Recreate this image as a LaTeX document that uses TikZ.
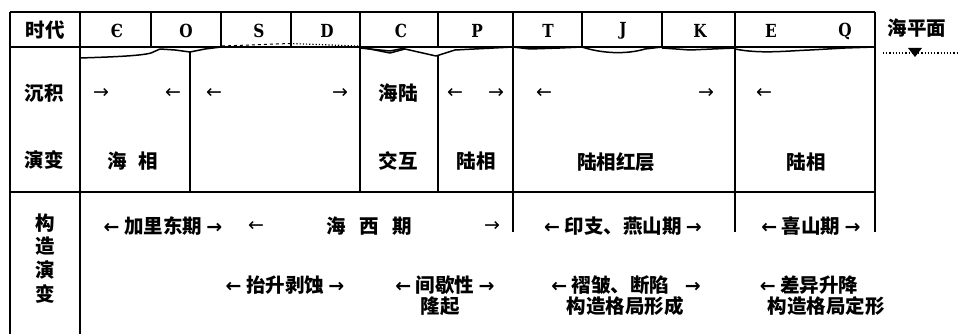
\documentclass[tikz,border=0pt]{standalone}
\usepackage{fontspec}
\setmainfont{Noto Sans CJK SC}
\newfontfamily\arrfont{DejaVu Sans}
\newfontfamily\monoletters{DejaVu Serif}[FakeStretch=0.85]
\newcommand{\RA}{{\arrfont\fontsize{19}{19}\selectfont →}}
\newcommand{\LA}{{\arrfont\fontsize{19}{19}\selectfont ←}}
\begin{document}
\begin{tikzpicture}[x=1pt,y=-1pt,
  grid/.style={line width=1.3pt,black},
  wave/.style={line width=1.5pt,black,line join=round},
  cj/.style={font=\bfseries\fontsize{19.5}{23}\selectfont,inner sep=0pt},
  let/.style={font=\monoletters\bfseries\fontsize{18}{18}\selectfont,inner sep=0pt},
  ar/.style={font=\arrfont\fontsize{19}{19}\selectfont,inner sep=0pt}]
\useasboundingbox (0,0) rectangle (959,334);
% ---- table frame
\draw[grid] (10,12) -- (875,12);
\draw[grid] (10,47) -- (875,47);
\draw[grid] (10,192) -- (875,192);
\draw[grid] (10,12) -- (10,334);
\draw[grid] (80,12) -- (80,334);
\foreach \x in {151,221,291,582,662}{\draw[grid] (\x,12) -- (\x,47);}
\draw[grid] (360,12) -- (360,192);
\draw[grid] (438,12) -- (438,47);
\draw[grid] (438,56) -- (438,192);
\draw[grid] (190,52) -- (190,192);
\draw[grid] (513,12) -- (513,232);
\draw[grid] (735,12) -- (735,232);
\draw[grid] (875,12) -- (875,232);
% ---- sea-level curve
\draw[wave] (80,58) .. controls (110,57) and (140,56) .. (151,53) -- (160,49)
  -- (175,50) -- (190,52) -- (205,49) -- (221,47);
\draw[line width=1pt,dashed] (222,46) -- (290,43.5);
\draw[line width=1.2pt,dotted] (290,43.5) -- (358,46);
\draw[wave] (360,47) -- (390,53) -- (405,49) -- (436,56) -- (455,50) -- (513,47);
\draw[wave] (360,48) -- (390,51) -- (405,48);
\draw[wave] (513,47) -- (530,49) -- (560,48) -- (582,47);
\draw[wave] (582,47) .. controls (600,53) and (625,55) .. (645,49) -- (662,47);
\draw[wave] (662,48) -- (690,50) -- (735,48);
\draw[wave] (735,49) .. controls (760,54) and (785,51) .. (810,50) -- (845,48) -- (875,47);
% ---- sea level marker
\draw[line width=1.2pt,dotted] (883,53) -- (959,53);
\fill (908,48) -- (922,48) -- (915,57) -- cycle;
% ---- row 1
\node[cj] (t0) at (45,30) {时代};
\node[let] (eps) at (117,31) {Є};
\node[let] (o) at (186,31) {O};
\node[let] (s) at (259,31) {S};
\node[let] (d) at (327,31) {D};
\node[let] (c) at (401,31) {C};
\node[let] (p) at (477,31) {P};
\node[let] (tt) at (548,31) {T};
\node[let] (j) at (623,31) {J};
\node[let] (k) at (700,31) {K};
\node[let] (e) at (771,31) {E};
\node[let] (q) at (845,31) {Q};
\node[cj] (hpm) at (917,28) {海平面};
% ---- row 2
\node[cj] (cj1) at (44,93) {沉积};
\node[cj] (yb1) at (44,160) {演变};
\node[ar] (a1) at (101,93) {→};
\node[ar] (a2) at (173,93) {←};
\node[ar] (a3) at (214,93) {←};
\node[ar] (a4) at (340,93) {→};
\node[cj] (hl) at (398,93) {海陆};
\node[ar] (a5) at (455,93) {←};
\node[ar] (a6) at (496,93) {→};
\node[ar] (a7) at (544,93) {←};
\node[ar] (a8) at (706,93) {→};
\node[ar] (a9) at (764,93) {←};
\node[cj] (hx) at (133,161) {海\hspace{0.6em}相};
\node[cj] (jh) at (398,161) {交互};
\node[cj] (lx1) at (476,161) {陆相};
\node[cj] (lxhc) at (616,162) {陆相红层};
\node[cj] (lx2) at (806,162) {陆相};
% ---- row 3
\node[cj] (g1) at (45,223) {构};
\node[cj] (g2) at (45,246) {造};
\node[cj] (g3) at (45,270) {演};
\node[cj] (g4) at (45,294) {变};
\node[cj] (jld) at (163,226) {\LA\ 加里东期\ \RA};
\node[ar] (b1) at (256,226) {←};
\node[cj] (hxq) at (369,226) {海\hspace{0.7em}西\hspace{0.7em}期};
\node[ar] (b2) at (492,226) {→};
\node[cj] (yzys) at (623,226) {\LA\ 印支、燕山期\ \RA};
\node[cj] (xs) at (811,226) {\LA\ 喜山期\ \RA};
\node[cj] (tsbs) at (285,285) {\LA\ 抬升剥蚀\ \RA};
\node[cj] (jxx) at (445,285) {\LA\ 间歇性\ \RA};
\node[cj] (lq) at (440,306) {隆起};
\node[cj] (zz) at (626,285) {\LA\ 褶皱、断陷\hspace{0.8em}\RA};
\node[cj] (xc) at (625,306) {构造格局形成};
\node[cj] (cy) at (809,285) {\LA\ 差异升降};
\node[cj] (dx) at (826,306) {构造格局定形};
\end{tikzpicture}
\end{document}
